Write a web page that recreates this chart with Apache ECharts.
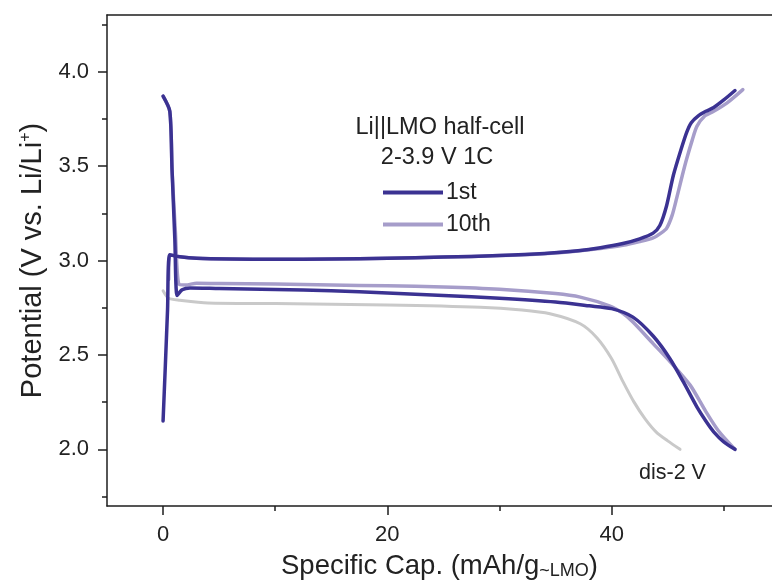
<!DOCTYPE html>
<html>
<head>
<meta charset="utf-8">
<script src="https://cdn.jsdelivr.net/npm/echarts@6/dist/echarts.min.js"></script>
<style>
html,body{margin:0;padding:0;background:#fff;}
#chart{width:772px;height:585px;}
</style>
</head>
<body>
<div id="chart"></div>
<script>
// ---- data ----
const charge1X = [0, 0.2, 0.4, 0.6, 1.5, 3, 6, 10, 15, 20, 25, 30, 34, 37, 39, 41, 42.5, 43.7, 44.3, 44.9, 45.5, 46.2, 46.7, 47.1, 47.7, 48.4, 49.1, 50.0, 51.0];
const charge1Y = [2.15, 2.44, 2.74, 3.03, 3.02, 3.012, 3.008, 3.007, 3.008, 3.012, 3.018, 3.026, 3.037, 3.052, 3.068, 3.09, 3.115, 3.145, 3.185, 3.29, 3.45, 3.59, 3.68, 3.73, 3.765, 3.79, 3.81, 3.85, 3.90];

const discharge1X = [0, 0.6, 0.8, 1.05, 1.25, 1.7, 2.4, 5, 10, 15, 20, 25, 30, 35, 38, 40, 41.9, 43.7, 45.2, 46.4, 47.6, 48.4, 49.1, 50.0, 51.0];
const discharge1Y = [3.87, 3.79, 3.48, 3.11, 2.815, 2.845, 2.855, 2.852, 2.847, 2.84, 2.828, 2.815, 2.8, 2.78, 2.76, 2.745, 2.70, 2.60, 2.48, 2.357, 2.225, 2.15, 2.093, 2.04, 2.0];

const charge10X = [0.5, 0.6, 1.5, 3, 6, 10, 15, 20, 25, 30, 34, 37, 39, 41, 42.5, 43.7, 44.4, 44.9, 45.4, 45.8, 46.3, 46.7, 47.2, 47.6, 48.3, 49.1, 50.3, 51.7];
const charge10Y = [2.9, 3.03, 3.02, 3.012, 3.008, 3.007, 3.008, 3.012, 3.018, 3.026, 3.036, 3.05, 3.063, 3.08, 3.1, 3.12, 3.145, 3.17, 3.24, 3.33, 3.45, 3.54, 3.64, 3.71, 3.765, 3.79, 3.835, 3.905];

const discharge10X = [0, 0.6, 0.8, 1.1, 1.4, 2.0, 3, 5, 10, 15, 20, 25, 30, 35, 37.2, 39.8, 41.0, 41.9, 43.7, 45.2, 47.0, 48.4, 49.5, 51.0];
const discharge10Y = [3.87, 3.79, 3.48, 3.15, 2.875, 2.87, 2.88, 2.878, 2.875, 2.87, 2.866, 2.86, 2.848, 2.825, 2.806, 2.76, 2.72, 2.674, 2.56, 2.465, 2.34, 2.2, 2.1, 2.0];

const dis2X = [0, 0.5, 1.5, 4, 10, 20, 28.3, 32, 34.5, 37.2, 38.7, 40.0, 41.0, 42.0, 43.0, 44.0, 45.0, 46.1];
const dis2Y = [2.84, 2.80, 2.79, 2.775, 2.772, 2.765, 2.753, 2.738, 2.718, 2.665, 2.59, 2.48, 2.36, 2.25, 2.16, 2.09, 2.045, 2.0];

const xMajorTicks = [0, 20, 40];
const xMinorTicks = [10, 30, 50];
const yMajorTicks = [2.0, 2.5, 3.0, 3.5, 4.0];
const yMinorTicks = [1.75, 2.25, 2.75, 3.25, 3.75, 4.25];

const legendNames = ['1st', '10th'];
const annoTitle1 = 'Li||LMO half-cell';
const annoTitle2 = '2-3.9 V 1C';
const annoDis = 'dis-2 V';

// ---- chart ----
const FONT = "'Liberation Sans', Arial, Helvetica, sans-serif";
const AX = '#1e1e1e';
const C1 = '#3b3292';
const C10 = '#a69dca';
const CG = '#c9c9c9';

function pairs(xs, ys) { return xs.map((x, i) => [x, ys[i]]); }

const chart = echarts.init(document.getElementById('chart'), null, {renderer: 'canvas'});

const xRange = {min: -5, max: 54.3};
const yRange = {min: 1.7, max: 4.3};

function lineSeries(name, xs, ys, color, width, z) {
  return {
    name: name, type: 'line', data: pairs(xs, ys),
    xAxisIndex: 0, yAxisIndex: 0,
    showSymbol: false, symbol: 'none',
    smooth: 0.25,
    lineStyle: {color: color, width: width, cap: 'round', join: 'round'},
    itemStyle: {color: color},
    z: z, clip: true, animation: false
  };
}

const option = {
  animation: false,
  backgroundColor: '#ffffff',
  grid: {left: 107, right: 0, top: 15, bottom: 77, containLabel: false},
  xAxis: [
    {
      type: 'value', position: 'bottom', min: xRange.min, max: xRange.max,
      axisLine: {show: true, onZero: false, lineStyle: {color: AX, width: 1.5}},
      axisTick: {show: true, inside: false, length: 9, customValues: xMajorTicks, lineStyle: {color: AX, width: 1.5}},
      axisLabel: {show: true, customValues: xMajorTicks, margin: 18, fontFamily: FONT, fontSize: 22, color: '#222'},
      splitLine: {show: false},
      name: 'Specific Cap. (mAh/g{sub|~LMO})',
      nameLocation: 'middle', nameGap: 46,
      nameTextStyle: {fontFamily: FONT, fontSize: 27.5, color: '#222',
        rich: {sub: {fontFamily: FONT, fontSize: 18, color: '#222', verticalAlign: 'bottom'}}}
    },
    {
      type: 'value', position: 'bottom', min: xRange.min, max: xRange.max,
      axisLine: {show: false, onZero: false},
      axisTick: {show: true, inside: false, length: 5, customValues: xMinorTicks, lineStyle: {color: AX, width: 1.5}},
      axisLabel: {show: false}, splitLine: {show: false}
    },
    {
      type: 'value', position: 'top', min: xRange.min, max: xRange.max,
      axisLine: {show: true, onZero: false, lineStyle: {color: AX, width: 1.5}},
      axisTick: {show: false}, axisLabel: {show: false}, splitLine: {show: false}
    }
  ],
  yAxis: [
    {
      type: 'value', position: 'left', min: yRange.min, max: yRange.max,
      axisLine: {show: true, onZero: false, lineStyle: {color: AX, width: 1.5}},
      axisTick: {show: true, inside: false, length: 9, customValues: yMajorTicks, lineStyle: {color: AX, width: 1.5}},
      axisLabel: {show: true, customValues: yMajorTicks, margin: 18, fontFamily: FONT, fontSize: 22, color: '#222',
        formatter: v => Number(v).toFixed(1)},
      splitLine: {show: false},
      name: 'Potential (V vs. Li/Li{sup|+})',
      nameLocation: 'middle', nameGap: 60, nameRotate: 90,
      nameTextStyle: {fontFamily: FONT, fontSize: 29, color: '#222',
        rich: {sup: {fontFamily: FONT, fontSize: 16, color: '#222', verticalAlign: 'top'}}}
    },
    {
      type: 'value', position: 'left', min: yRange.min, max: yRange.max,
      axisLine: {show: false, onZero: false},
      axisTick: {show: true, inside: false, length: 5, customValues: yMinorTicks, lineStyle: {color: AX, width: 1.5}},
      axisLabel: {show: false}, splitLine: {show: false}
    }
  ],
  legend: {
    data: legendNames, orient: 'vertical', left: 378, top: 176,
    itemWidth: 60, itemHeight: 4, icon: 'rect', itemGap: 9,
    textStyle: {fontFamily: FONT, fontSize: 23, color: '#222', padding: [0,0,0,-2]},
    selectedMode: false
  },
  graphic: [
    {type: 'text', x: 440, y: 128, z: 10,
      style: {text: annoTitle1, fontFamily: FONT, fontSize: 23.5, fill: '#222', align: 'center', verticalAlign: 'middle'}},
    {type: 'text', x: 437, y: 158, z: 10,
      style: {text: annoTitle2, fontFamily: FONT, fontSize: 23.5, fill: '#222', align: 'center', verticalAlign: 'middle'}},
    {type: 'text', x: 639, y: 473, z: 10,
      style: {text: annoDis, fontFamily: FONT, fontSize: 21.5, fill: '#222', align: 'left', verticalAlign: 'middle'}}
  ],
  series: [
    lineSeries('dis-2 V', dis2X, dis2Y, CG, 3, 2),
    lineSeries('10th', discharge10X, discharge10Y, C10, 3.5, 3),
    lineSeries('10th', charge10X, charge10Y, C10, 3.5, 3),
    lineSeries('1st', discharge1X, discharge1Y, C1, 3.5, 4),
    lineSeries('1st', charge1X, charge1Y, C1, 3.5, 4)
  ]
};
chart.setOption(option);
</script>
</body>
</html>
